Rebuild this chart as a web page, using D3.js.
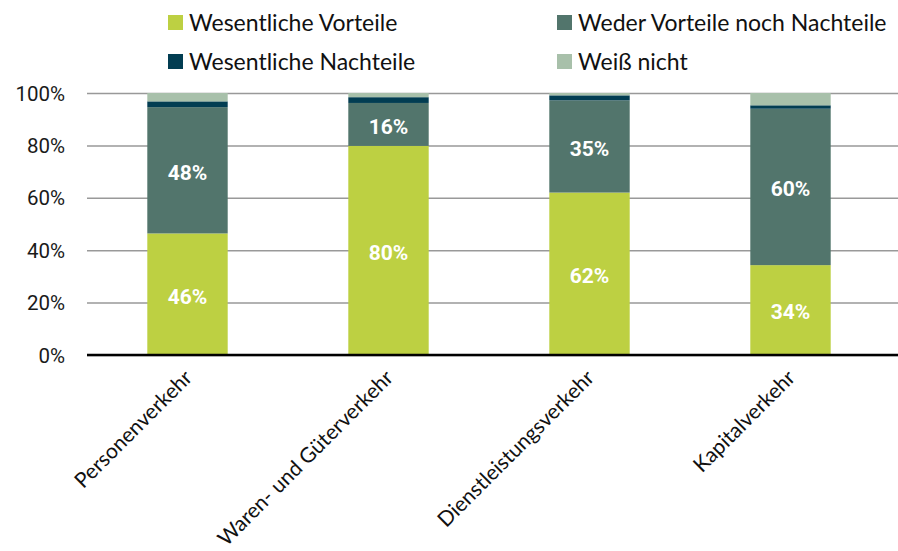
<!DOCTYPE html>
<html lang="de">
<head>
    <meta charset="UTF-8">
    <title>Vorteile und Nachteile</title>
    <script src="https://d3js.org/d3.v7.min.js"></script>
    <style>
        body { margin: 0; background: #fff; }
        .tick text { font-family: Roboto, "Open Sans", sans-serif; }
    </style>
</head>
<body>
<div id="chart"></div>
<script>

    // data (percent)
    var categories = ["Personenverkehr", "Waren- und Güterverkehr", "Dienstleistungsverkehr", "Kapitalverkehr"];
    var seriesNames = ["Wesentliche Vorteile", "Weder Vorteile noch Nachteile", "Wesentliche Nachteile", "Weiß nicht"];
    var vorteile = [46.4, 79.8, 62.0, 34.3];
    var weder = [48.2, 16.4, 35.2, 59.7];
    var nachteile = [2.2, 2.2, 1.9, 1.3];
    var weissNicht = [3.2, 1.6, 0.9, 4.7];
    var yTicks = [0, 20, 40, 60, 80, 100];
    var colors = ["#bdd042", "#52756c", "#023d52", "#a8c0aa"];

    var w = 898;
    var h = 551;
    var margin = {top: 93, right: 7, bottom: 196, left: 87};

    var svg = d3.select("#chart")
        .append("svg")
        .attr("width", w)
        .attr("height", h);

    var x = d3.scaleBand()
        .domain(categories)
        .range([margin.left, w - margin.right])
        .paddingInner(0.6)
        .paddingOuter(0.3);

    var y = d3.scaleLinear()
        .domain([0, 100])
        .range([h - margin.bottom, margin.top]);

    var rows = categories.map(function (c, i) {
        return {cat: c, s0: vorteile[i], s1: weder[i], s2: nachteile[i], s3: weissNicht[i]};
    });
    var stack = d3.stack().keys(["s0", "s1", "s2", "s3"]);
    var layers = stack(rows);

    // gridlines + y labels
    var yAxis = svg.append("g")
        .attr("transform", "translate(" + margin.left + ",0)")
        .call(d3.axisLeft(y)
            .tickValues(yTicks)
            .tickSize(-(w - margin.left - margin.right))
            .tickPadding(22)
            .tickFormat(function (d) { return d + "%"; }));
    yAxis.select(".domain").remove();
    yAxis.selectAll(".tick line")
        .attr("stroke", "#999")
        .attr("stroke-width", 1.5)
        .attr("x2", w - margin.left - margin.right + 10)
        .attr("x1", 0);
    yAxis.selectAll(".tick text")
        .attr("fill", "#1a1a1a")
        .style("font-size", "20.5px")
        .attr("dy", "0.35em");

    // bars
    svg.append("g")
        .selectAll("g")
        .data(layers)
        .enter()
        .append("g")
        .attr("fill", function (d, i) { return colors[i]; })
        .selectAll("rect")
        .data(function (d) { return d; })
        .enter()
        .append("rect")
        .attr("x", function (d) { return x(d.data.cat); })
        .attr("width", x.bandwidth())
        .attr("y", function (d) { return y(d[1]); })
        .attr("height", function (d) { return y(d[0]) - y(d[1]); });

    // value labels on the two big segments
    [0, 1].forEach(function (k) {
        svg.append("g")
            .selectAll("text")
            .data(layers[k])
            .enter()
            .append("text")
            .attr("x", function (d) { return x(d.data.cat) + x.bandwidth() / 2; })
            .attr("y", function (d) { return y((d[0] + d[1]) / 2) + 2; })
            .attr("dy", "0.35em")
            .attr("text-anchor", "middle")
            .attr("fill", "#fff")
            .style("font-family", "Roboto, sans-serif")
            .style("font-weight", "bold")
            .style("font-size", "21px")
            .text(function (d) { return Math.round(d[1] - d[0]) + "%"; });
    });

    // baseline
    svg.append("line")
        .attr("x1", margin.left)
        .attr("x2", w - margin.right + 10)
        .attr("y1", y(0))
        .attr("y2", y(0))
        .attr("stroke", "#000")
        .attr("stroke-width", 2.5);

    // x labels
    svg.append("g")
        .selectAll("text")
        .data(categories)
        .enter()
        .append("text")
        .attr("transform", function (d) {
            return "translate(" + (x(d) + x.bandwidth() / 2 + 6) + "," + (y(0) + 24) + ") rotate(-45)";
        })
        .attr("text-anchor", "end")
        .attr("fill", "#111")
        .style("font-family", "Lato, sans-serif")
        .style("font-size", "21px")
        .text(function (d) { return d; });

    // legend
    var legendPos = [[168, 15], [557, 15], [168, 54], [557, 54]];
    var legend = svg.append("g")
        .selectAll("g")
        .data(seriesNames)
        .enter()
        .append("g")
        .attr("transform", function (d, i) { return "translate(" + legendPos[i][0] + "," + legendPos[i][1] + ")"; });
    legend.append("rect")
        .attr("width", 15)
        .attr("height", 15)
        .attr("fill", function (d, i) { return colors[i]; });
    legend.append("text")
        .attr("x", 21)
        .attr("y", 16)
        .attr("fill", "#111")
        .style("font-family", "Lato, sans-serif")
        .style("font-size", "23px")
        .text(function (d) { return d; });

</script>
</body>
</html>
